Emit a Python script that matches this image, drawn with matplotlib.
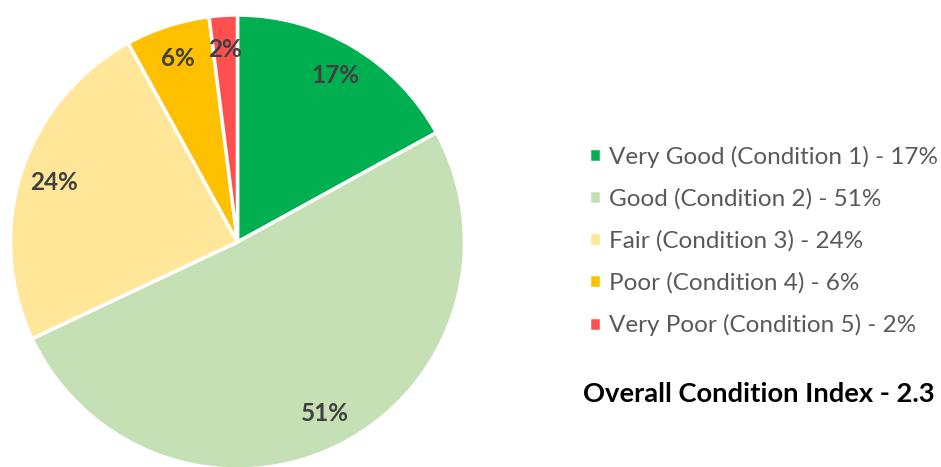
import matplotlib.pyplot as plt

plt.rcParams['font.family'] = ['Lato', 'DejaVu Sans']

labels = ['Very Good (Condition 1)', 'Good (Condition 2)', 'Fair (Condition 3)',
          'Poor (Condition 4)', 'Very Poor (Condition 5)']
shares = [17, 51, 24, 6, 2]
colors = ['#00B050', '#C5E0B4', '#FFE699', '#FFC000', '#FF5050']
index_value = 2.3

W, H = 941, 467
fig = plt.figure(figsize=(W / 100, H / 100), dpi=100)

# pie axes: center (237.5, 242) px, radius 227 px
cx, cy, r = 237.5, 242, 227
ax = fig.add_axes([(cx - r) / W, (H - cy - r) / H, 2 * r / W, 2 * r / H])
wedges, texts, autotexts = ax.pie(
    shares, colors=colors, startangle=90, counterclock=False,
    autopct='%d%%', pctdistance=0.85,
    wedgeprops=dict(edgecolor='white', linewidth=2.5),
    textprops=dict(color='#404040', fontsize=17.5, fontweight='bold'))
ax.set_xlim(-1, 1)
ax.set_ylim(-1, 1)
ax.axis('off')

leg_labels = [f'{l} - {s}%' for l, s in zip(labels, shares)]
fig.legend(wedges, leg_labels, loc='upper left', bbox_to_anchor=(567 / W, 1 - 124 / H),
           frameon=False, fontsize=17.5, labelcolor='#595959',
           handlelength=0.5, handleheight=0.5, handletextpad=0.32, labelspacing=0.84)

fig.text(583 / W, 1 - 394 / H, f'Overall Condition Index - {index_value}',
         fontsize=19.7, fontweight='bold', color='#000000', va='center', ha='left')

fig.savefig('out.png', dpi=100)
